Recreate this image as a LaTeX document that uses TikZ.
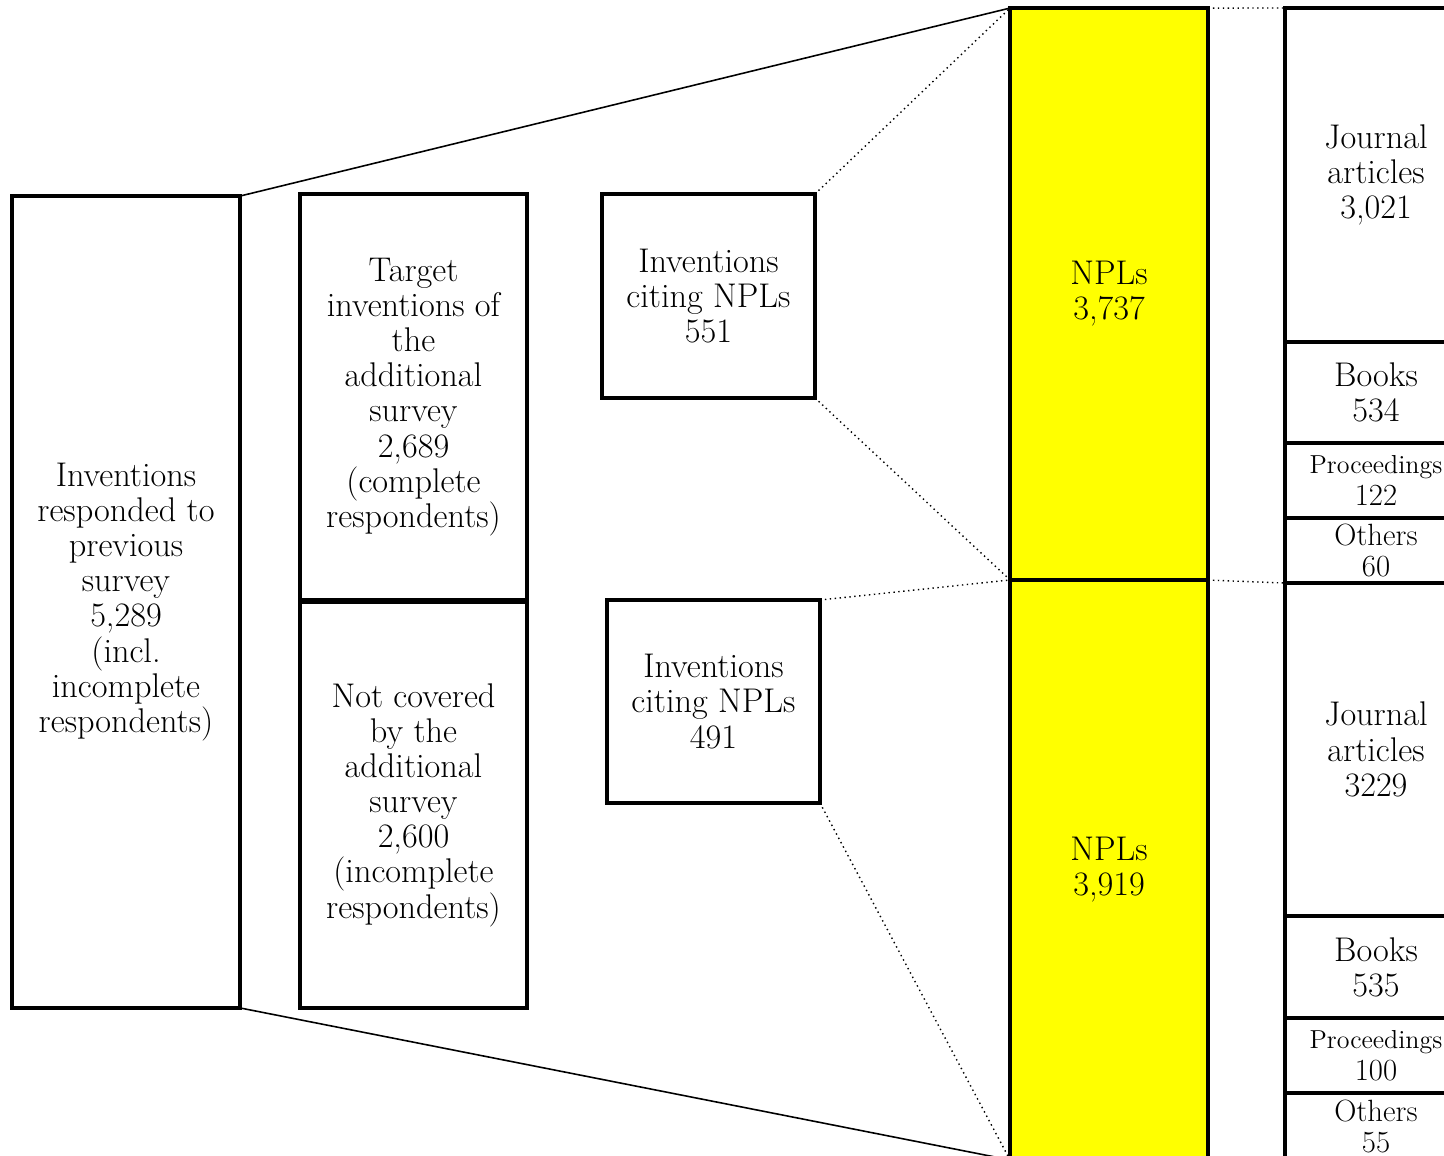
\documentclass[tikz,border=0pt]{standalone}
\usepackage{tikz}

\begin{document}
\begin{tikzpicture}[x=0.02cm,y=-0.02cm,
    blk/.style={draw, line width=2.3pt, outer sep=0pt, inner sep=0pt, align=center,
        font=\fontsize{19.5}{20}\selectfont},
    npl/.style={blk, fill=nplyellow, minimum width=3.96cm},
    kind/.style={blk, minimum width=3.64cm},
    link/.style={line width=0.9pt},
    dots/.style={line width=0.8pt, dotted}]
        \definecolor{nplyellow}{RGB}{255,255,0}

        \useasboundingbox (0,0) rectangle (1444,1156);
        \clip (0,0) rectangle (1444,1156);

        % survey boxes
        \node[blk, minimum width=4.56cm, minimum height=16.24cm] (prev) at (126,602)
            {Inventions\\responded to\\previous\\survey\\5,289\\(incl.\\incomplete\\respondents)};
        \node[blk, minimum width=4.54cm, minimum height=8.12cm] (target) at (413.5,397)
            {Target\\inventions of\\the\\additional\\survey\\2,689\\(complete\\respondents)};
        \node[blk, minimum width=4.54cm, minimum height=8.12cm] (notcov) at (413.5,805)
            {Not covered\\by the\\additional\\survey\\2,600\\(incomplete\\respondents)};

        \node[blk, minimum width=4.26cm, minimum height=4.08cm] (citeA) at (708.5,296)
            {Inventions\\citing NPLs\\551};
        \node[blk, minimum width=4.26cm, minimum height=4.06cm] (citeB) at (713.5,701.5)
            {Inventions\\citing NPLs\\491};

        % NPL columns
        \node[npl, minimum height=11.44cm] (nplA) at (1109,294) {NPLs\\3,737};
        \node[npl, minimum height=11.6cm] (nplB) at (1109,870) {NPLs\\3,919};

        % kinds of NPLs
        \node[kind, minimum height=6.68cm] (jourA) at (1376,175) {Journal\\articles\\3,021};
        \node[kind, minimum height=2.02cm] (bookA) at (1376,392.5) {Books\\534};
        \node[kind, minimum height=1.5cm, font=\fontsize{14.8}{18}\selectfont] (procA) at (1376,480.5)
            {Proceedings\\{\fontsize{17.5}{18}\selectfont 122}};
        \node[kind, minimum height=1.3cm, font=\fontsize{17.5}{17.5}\selectfont] (othA) at (1376,550.5) {Others\\60};

        \node[kind, minimum height=6.66cm] (jourB) at (1376,749.5) {Journal\\articles\\3229};
        \node[kind, minimum height=2.04cm] (bookB) at (1376,967) {Books\\535};
        \node[kind, minimum height=1.5cm, font=\fontsize{14.8}{18}\selectfont] (procB) at (1376,1055.5)
            {Proceedings\\{\fontsize{17.5}{18}\selectfont 100}};
        \node[kind, minimum height=1.34cm, font=\fontsize{17.5}{17.5}\selectfont] (othB) at (1376,1126.5) {Others\\55};

        % zoom lines
        \draw[link] (prev.north east) -- (nplA.north west);
        \draw[link] (prev.south east) -- (nplB.south west);

        \draw[dots] (citeA.north east) -- (nplA.north west);
        \draw[dots] (citeA.south east) -- (nplA.south west);
        \draw[dots] (citeB.north east) -- (nplA.south west);
        \draw[dots] (citeB.south east) -- (nplB.south west);

        \draw[dots] (nplA.north east) -- (jourA.north west);
        \draw[dots] (nplB.north east) -- (jourB.north west);
\end{tikzpicture}
\end{document}
